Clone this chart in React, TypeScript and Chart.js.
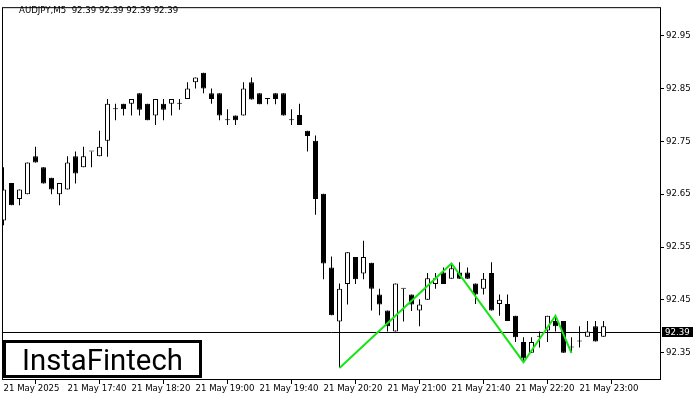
import { useEffect, useRef } from "react";
import { Chart, registerables } from "chart.js";

Chart.register(...registerables);

// ---- data (AUDJPY M5, 21 May 2025 17:00 .. 23:15) ----
const opens = [
  92.600, 92.671, 92.641, 92.650, 92.722, 92.701, 92.681, 92.650, 92.659, 92.722,
  92.701, 92.731, 92.722, 92.751, 92.811, 92.821, 92.821, 92.841, 92.821, 92.799,
  92.821, 92.821, 92.821, 92.830, 92.862, 92.880, 92.841, 92.841, 92.790, 92.799,
  92.799, 92.862, 92.841, 92.830, 92.841, 92.841, 92.790, 92.800, 92.770, 92.751,
  92.651, 92.511, 92.409, 92.480, 92.531, 92.500, 92.520, 92.460, 92.430, 92.390,
  92.471, 92.460, 92.430, 92.450, 92.480, 92.502, 92.490, 92.502, 92.502, 92.481,
  92.471, 92.501, 92.442, 92.442, 92.420, 92.370, 92.350, 92.380, 92.392, 92.410,
  92.410, 92.360, 92.371, 92.380, 92.400, 92.380,
];
const highs = [
  92.701, 92.671, 92.659, 92.710, 92.740, 92.701, 92.681, 92.671, 92.722, 92.731,
  92.740, 92.731, 92.770, 92.830, 92.821, 92.821, 92.830, 92.841, 92.821, 92.830,
  92.830, 92.830, 92.830, 92.862, 92.871, 92.880, 92.850, 92.841, 92.811, 92.799,
  92.862, 92.871, 92.841, 92.830, 92.841, 92.841, 92.811, 92.821, 92.770, 92.761,
  92.651, 92.532, 92.481, 92.540, 92.531, 92.562, 92.520, 92.471, 92.430, 92.481,
  92.471, 92.460, 92.451, 92.501, 92.501, 92.511, 92.519, 92.521, 92.511, 92.481,
  92.501, 92.521, 92.460, 92.460, 92.420, 92.379, 92.379, 92.390, 92.420, 92.420,
  92.410, 92.379, 92.400, 92.410, 92.410, 92.410,
];
const lows = [
  92.591, 92.629, 92.629, 92.650, 92.710, 92.670, 92.650, 92.629, 92.659, 92.670,
  92.701, 92.701, 92.722, 92.721, 92.790, 92.799, 92.799, 92.799, 92.790, 92.781,
  92.790, 92.799, 92.810, 92.830, 92.850, 92.841, 92.821, 92.790, 92.781, 92.781,
  92.799, 92.829, 92.820, 92.820, 92.820, 92.799, 92.781, 92.781, 92.731, 92.611,
  92.489, 92.421, 92.321, 92.441, 92.480, 92.489, 92.430, 92.421, 92.390, 92.390,
  92.409, 92.429, 92.400, 92.450, 92.471, 92.480, 92.490, 92.490, 92.490, 92.442,
  92.460, 92.430, 92.420, 92.410, 92.370, 92.332, 92.350, 92.360, 92.370, 92.390,
  92.350, 92.351, 92.360, 92.380, 92.371, 92.380,
];
const closes = [
  92.659, 92.629, 92.659, 92.710, 92.710, 92.670, 92.659, 92.671, 92.710, 92.689,
  92.722, 92.731, 92.740, 92.821, 92.811, 92.811, 92.830, 92.810, 92.790, 92.830,
  92.810, 92.830, 92.821, 92.850, 92.871, 92.850, 92.830, 92.799, 92.790, 92.790,
  92.850, 92.829, 92.820, 92.830, 92.830, 92.799, 92.790, 92.781, 92.760, 92.641,
  92.519, 92.421, 92.471, 92.540, 92.489, 92.531, 92.471, 92.441, 92.400, 92.481,
  92.471, 92.441, 92.441, 92.491, 92.491, 92.480, 92.510, 92.490, 92.490, 92.460,
  92.490, 92.430, 92.450, 92.410, 92.379, 92.339, 92.370, 92.380, 92.420, 92.400,
  92.350, 92.360, 92.371, 92.390, 92.371, 92.400,
];

// pattern (green zig-zag)
const patternIdx = [42, 56, 65, 69, 71];
const patternPrice = [92.321, 92.519, 92.332, 92.420, 92.349];

// axes
const yTicks = [92.35, 92.45, 92.55, 92.65, 92.75, 92.85, 92.95];
const xTickIdx = [0, 8, 16, 24, 32, 40, 48, 56, 64, 72];
const xTickLabels = [
  "21 May 2025", "21 May 17:40", "21 May 18:20", "21 May 19:00", "21 May 19:40",
  "21 May 20:20", "21 May 21:00", "21 May 21:40", "21 May 22:20", "21 May 23:00",
];
const lastPrice = 92.39;
const headerText = "AUDJPY,M5  92.39 92.39 92.39 92.39";
const logoText = "InstaFintech";

const yMin = 92.2983;
const yMax = 93.004;
const xMin = -0.1875;
const xMax = 82.1875;

const FONT = "DejaVu Sans";
const FS = 8.6;

const overlay = {
  id: "overlay",
  beforeDatasetsDraw(chart: any) {
    const { ctx, chartArea, scales } = chart;
    const py = Math.round(scales.y.getPixelForValue(lastPrice)) + 0.5;
    ctx.save();
    ctx.strokeStyle = "#000";
    ctx.lineWidth = 1;
    ctx.beginPath();
    ctx.moveTo(chartArea.left, py);
    ctx.lineTo(chartArea.right, py);
    ctx.stroke();
    ctx.restore();
  },
  afterDraw(chart: any) {
    const { ctx, chartArea, scales } = chart;
    const { left, right, top, bottom } = chartArea;
    ctx.save();
    // frame
    ctx.strokeStyle = "#000";
    ctx.lineWidth = 1;
    ctx.strokeRect(left + 0.5, top + 0.5, right - left - 1, bottom - top - 1);
    // header
    ctx.fillStyle = "#000";
    ctx.font = `${FS}px "${FONT}"`;
    ctx.textAlign = "left";
    ctx.textBaseline = "middle";
    ctx.fillText(headerText, 19, 11);
    // current price tag
    const py = Math.round(scales.y.getPixelForValue(lastPrice));
    ctx.fillStyle = "#000";
    ctx.fillRect(right + 1, py - 5, 31, 10);
    ctx.fillStyle = "#fff";
    ctx.fillText(lastPrice.toFixed(2), right + 4, py + 0.5);
    // logo
    ctx.fillStyle = "#fff";
    ctx.fillRect(3, 340, 199, 38);
    ctx.strokeStyle = "#000";
    ctx.lineWidth = 3;
    ctx.strokeRect(4.5, 341.5, 196, 35);
    let fs = 28;
    ctx.font = `400 ${fs}px Roboto`;
    const w = ctx.measureText(logoText).width;
    fs = (fs * 161) / w;
    ctx.font = `400 ${fs}px Roboto`;
    ctx.fillStyle = "#000";
    ctx.textBaseline = "alphabetic";
    ctx.fillText(logoText, 22, 370);
    ctx.restore();
  },
};

export default function App() {
  const ref = useRef<HTMLCanvasElement>(null);
  useEffect(() => {
    const canvas = ref.current;
    if (!canvas) return;
    const idx = opens.map((_, i) => i);
    const bodies = idx.map((i) => ({ x: i, y: [opens[i], closes[i]] }));
    const wicks = idx.map((i) => ({ x: i, y: [lows[i], highs[i]] }));
    const bodyColors = idx.map((i) => (closes[i] > opens[i] ? "#ffffff" : "#000000"));
    const pattern = patternIdx.map((x, k) => ({ x, y: patternPrice[k] }));

    const chart = new Chart(canvas, {
      type: "bar",
      data: {
        datasets: [
          {
            type: "line",
            data: pattern as any,
            borderColor: "#14e614",
            borderWidth: 2,
            pointRadius: 0,
            tension: 0,
            fill: false,
            order: -1,
          } as any,
          {
            type: "bar",
            data: bodies as any,
            backgroundColor: bodyColors,
            borderColor: "#000",
            borderWidth: 1,
            borderSkipped: false,
            barThickness: 5,
            minBarLength: 1,
            grouped: false,
            inflateAmount: 0,
            order: 0,
          } as any,
          {
            type: "bar",
            data: wicks as any,
            backgroundColor: "#000",
            borderWidth: 0,
            barThickness: 1,
            grouped: false,
            inflateAmount: 0,
            order: 1,
          } as any,
        ],
      },
      options: {
        responsive: false,
        animation: false,
        devicePixelRatio: 1,
        layout: { padding: { top: 2, left: 2, right: 0, bottom: 0 } },
        plugins: {
          legend: { display: false },
          tooltip: { enabled: false },
        },
        scales: {
          x: {
            type: "linear",
            min: xMin,
            max: xMax,
            offset: false,
            bounds: "data",
            grid: {
              drawOnChartArea: false,
              drawTicks: true,
              tickLength: 4,
              color: "#000",
              tickColor: "#000",
            },
            border: { display: false },
            ticks: {
              autoSkip: false,
              maxRotation: 0,
              minRotation: 0,
              align: "start",
              padding: 0,
              color: "#000",
              font: { family: FONT, size: FS },
              callback: (v: any) => {
                const k = xTickIdx.indexOf(Number(v));
                return k >= 0 ? xTickLabels[k] : "";
              },
            },
            afterBuildTicks: (s: any) => {
              s.ticks = xTickIdx.map((v) => ({ value: v }));
            },
            afterFit: (s: any) => {
              s.height = 20;
            },
          } as any,
          y: {
            type: "linear",
            position: "right",
            min: yMin,
            max: yMax,
            bounds: "data",
            grid: {
              drawOnChartArea: false,
              drawTicks: true,
              tickLength: 3,
              color: "#000",
              tickColor: "#000",
            },
            border: { display: false },
            ticks: {
              padding: 2,
              color: "#000",
              font: { family: FONT, size: FS },
              callback: (v: any) => Number(v).toFixed(2),
            },
            afterBuildTicks: (s: any) => {
              s.ticks = yTicks.map((v) => ({ value: v }));
            },
            afterFit: (s: any) => {
              s.width = 39;
            },
          } as any,
        },
      },
      plugins: [overlay],
    });
    return () => chart.destroy();
  }, []);

  return (
    <div style={{ position: "absolute", left: 0, top: 0, width: 700, height: 400, background: "#fff" }}>
      <canvas ref={ref} width={700} height={400} style={{ width: 700, height: 400, display: "block" }} />
    </div>
  );
}
